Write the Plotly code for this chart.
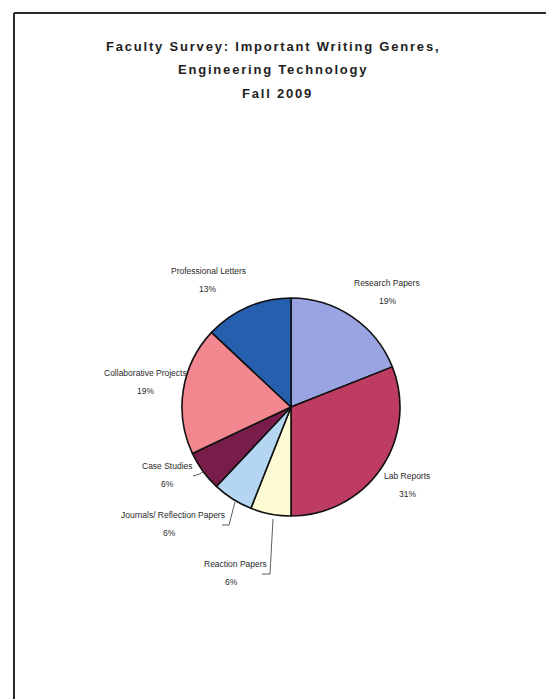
import plotly.graph_objects as go

# ---- data ----
genres = ["Research Papers", "Lab Reports", "Reaction Papers",
          "Journals/ Reflection Papers", "Case Studies",
          "Collaborative Projects", "Professional Letters"]
percents = [19, 31, 6, 6, 6, 19, 13]
colors = ["#9BA4E2", "#BE3C61", "#FDFBD3", "#B4D6F2",
          "#781D49", "#F2878F", "#265FAE"]
title_lines = ["Faculty Survey: Important Writing Genres,",
               "Engineering Technology", "Fall 2009"]

# the page body has an 8px margin; work in window pixels and convert
OFF = 8
W, H = 554 - OFF, 699 - OFF


def px(x):
    return (x - OFF) / W


def py(y):
    return 1 - (y - OFF) / H


# layout positions (window pixels) for the outside labels
label_pos = {
    "Research Papers": (387, 283, 387),
    "Lab Reports": (407, 476, 407),
    "Reaction Papers": (235, 564, 231),
    "Journals/ Reflection Papers": (173, 515, 169),
    "Case Studies": (167, 466, 167),
    "Collaborative Projects": (145, 373, 145),
    "Professional Letters": (208, 271, 207),
}

cx, cy, r = 291, 407, 109

fig = go.Figure()
fig.add_trace(go.Pie(
    labels=genres, values=percents, sort=False, direction="clockwise",
    rotation=0, textinfo="none", hoverinfo="label+percent",
    marker=dict(colors=colors, line=dict(color="#111111", width=1.6)),
    domain=dict(x=[px(cx - r), px(cx + r)], y=[py(cy + r), py(cy - r)]),
    showlegend=False,
))

annotations = []
title_xy = [(273, 47), (273, 70), (277, 93)]
for t, (tx, ty) in zip(title_lines, title_xy):
    annotations.append(dict(
        x=px(tx), y=py(ty), xref="paper", yref="paper", showarrow=False,
        xanchor="center", yanchor="middle",
        text='<b><span style="letter-spacing:1.8px">' + t + '</span></b>',
        font=dict(family="Liberation Sans, Arial", size=13, color="#1e1e1e"),
    ))

for g, p in zip(genres, percents):
    lx, ly, pxx = label_pos[g]
    annotations.append(dict(
        x=px(lx), y=py(ly), xref="paper", yref="paper", showarrow=False,
        xanchor="center", yanchor="middle", text=g,
        font=dict(family="Liberation Sans, Arial", size=8.5, color="#2a2a2a"),
    ))
    annotations.append(dict(
        x=px(pxx), y=py(ly + 18), xref="paper", yref="paper", showarrow=False,
        xanchor="center", yanchor="middle", text=f"{p}%",
        font=dict(family="Liberation Sans, Arial", size=8.5, color="#2a2a2a"),
    ))


def path(points, curve=False):
    s = "M {} {}".format(px(points[0][0]), py(points[0][1]))
    if curve:
        s += " Q {} {} {} {}".format(px(points[1][0]), py(points[1][1]),
                                     px(points[2][0]), py(points[2][1]))
    else:
        for a, b in points[1:]:
            s += " L {} {}".format(px(a), py(b))
    return s


leader = dict(color="#333333", width=0.8)
shapes = [
    dict(type="path", xref="paper", yref="paper",
         path=path([(193, 476), (200, 475), (204, 471)], curve=True), line=leader),
    dict(type="path", xref="paper", yref="paper",
         path=path([(222, 525), (229, 525), (235, 502)]), line=leader),
    dict(type="path", xref="paper", yref="paper",
         path=path([(262, 574), (270, 574), (273, 519)]), line=leader),
    # page frame (top and left edges)
    dict(type="line", xref="paper", yref="paper", x0=px(14), x1=px(554),
         y0=py(13), y1=py(13), line=dict(color="#2a2a2a", width=2)),
    dict(type="line", xref="paper", yref="paper", x0=px(14), x1=px(14),
         y0=py(13), y1=py(699), line=dict(color="#2a2a2a", width=2)),
]

fig.update_layout(
    width=W, height=H, margin=dict(l=0, r=0, t=0, b=0),
    paper_bgcolor="white", plot_bgcolor="white",
    annotations=annotations, shapes=shapes,
)

fig.write_html("out.html")
